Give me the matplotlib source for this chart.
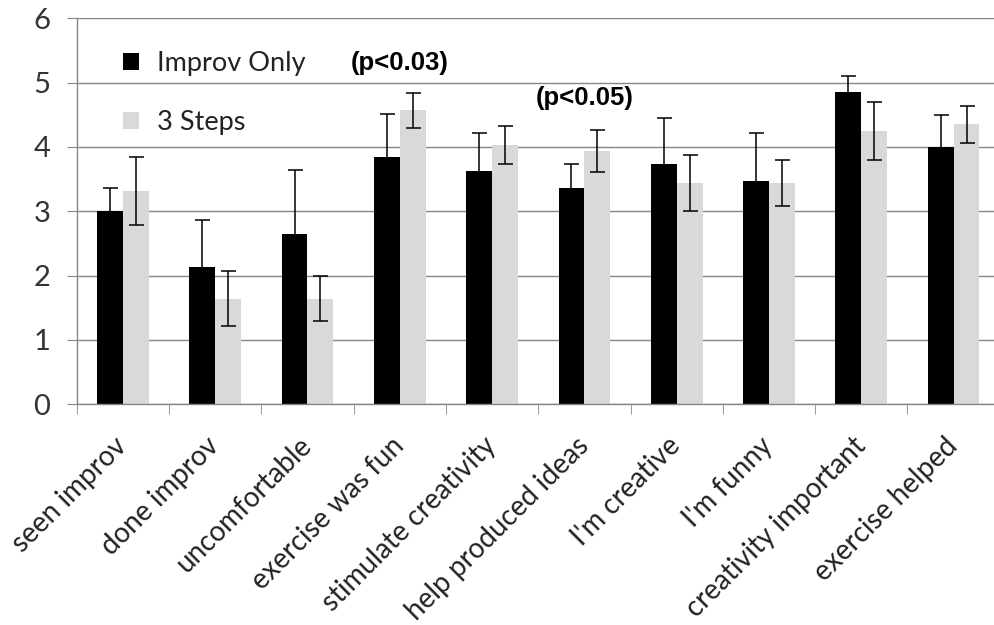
import numpy as np
import matplotlib.pyplot as plt

categories = ["seen improv", "done improv", "uncomfortable", "exercise was fun",
              "stimulate creativity", "help produced ideas", "I'm creative",
              "I'm funny", "creativity important", "exercise helped"]
improv_only = [3.00, 2.13, 2.65, 3.85, 3.62, 3.36, 3.74, 3.47, 4.85, 4.00]
improv_err = [0.36, 0.74, 0.99, 0.67, 0.60, 0.37, 0.71, 0.74, 0.25, 0.50]
three_steps = [3.32, 1.64, 1.64, 4.57, 4.03, 3.94, 3.44, 3.44, 4.25, 4.35]
steps_err = [0.53, 0.43, 0.35, 0.27, 0.29, 0.33, 0.44, 0.36, 0.45, 0.29]
notes = [("(p<0.03)", 3, 5.31), ("(p<0.05)", 5, 4.76)]

plt.rcParams['font.family'] = ['Lato', 'DejaVu Sans']

fig = plt.figure(figsize=(9.94, 6.25), dpi=100)
ax = fig.add_axes([0.0772, 0.3531, 0.9286, 0.6176])

x = np.arange(len(categories))
w = 0.28
err_kw = dict(ecolor='black', elinewidth=1.1, capsize=5.4, capthick=1.1)
b1 = ax.bar(x - w / 2, improv_only, w, color='black', yerr=improv_err,
            error_kw=err_kw, label='Improv Only', zorder=2)
b2 = ax.bar(x + w / 2, three_steps, w, color='#d9d9d9', yerr=steps_err,
            error_kw=err_kw, label='3 Steps', zorder=2)

ax.set_xlim(-0.5, len(categories) - 0.5)
ax.set_ylim(0, 6)
ax.set_yticks(range(7))
ax.yaxis.grid(True, color='#868686', linewidth=1.0, zorder=0)
ax.set_axisbelow(True)

for s in ['top', 'right']:
    ax.spines[s].set_visible(False)
for s in ['left', 'bottom']:
    ax.spines[s].set_color('#868686')
    ax.spines[s].set_linewidth(1.0)

ax.tick_params(axis='y', length=7, color='#868686', labelsize=21, pad=12,
               labelcolor='#333333')
ax.set_xticks(x)
ax.set_xticklabels(categories, rotation=45, ha='right', va='center',
                   rotation_mode='anchor', fontsize=20, color='#222222')
ax.tick_params(axis='x', which='major', length=0, pad=27)
ax.set_xticks(np.arange(len(categories) + 1) - 0.5, minor=True)
ax.tick_params(axis='x', which='minor', length=7, color='#868686')

for txt, i, yv in notes:
    ax.text(i, yv, txt, ha='center', va='center', fontsize=18.5,
            fontweight='bold', family='Liberation Sans')

ax.legend(handles=[b1, b2], loc='upper left', frameon=False, fontsize=19.5,
          bbox_to_anchor=(123 / 994, 1 - 51 / 625),
          bbox_transform=fig.transFigure, handlelength=0.6, handleheight=0.6,
          handletextpad=0.65, labelspacing=1.25, borderpad=0, borderaxespad=0,
          labelcolor='#222222')

fig.savefig('out.png', dpi=100)
